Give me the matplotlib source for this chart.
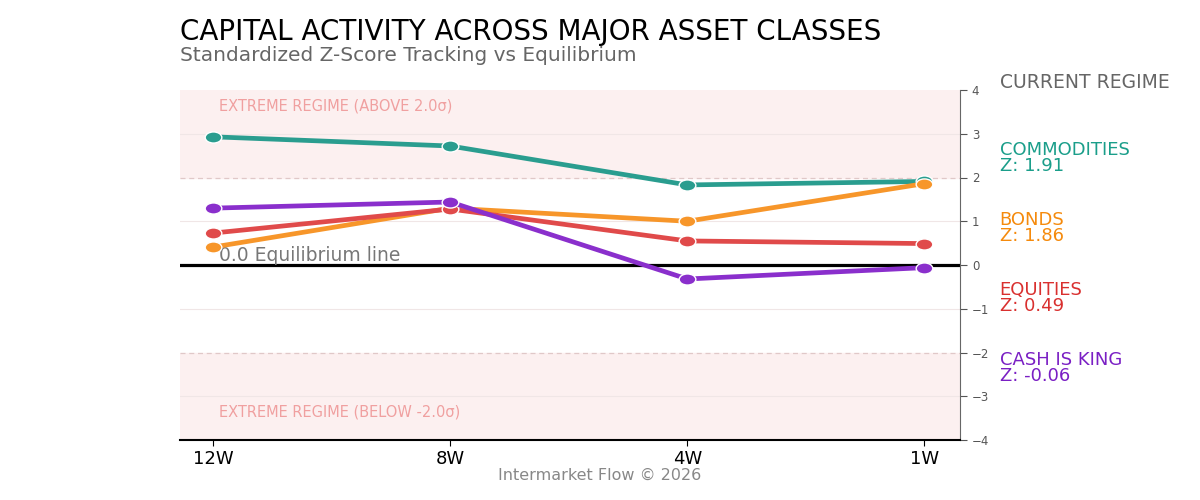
import matplotlib
matplotlib.use("Agg")
import matplotlib.pyplot as plt
from matplotlib.path import Path
from matplotlib.transforms import Affine2D

plt.rcParams['font.family'] = ['DejaVu Sans']

# data
periods = ["12W", "8W", "4W", "1W"]
commodities = [2.93, 2.72, 1.83, 1.91]
bonds = [0.41, 1.30, 1.00, 1.86]
equities = [0.73, 1.28, 0.55, 0.49]
cash = [1.30, 1.44, -0.32, -0.06]
names = ["COMMODITIES", "BONDS", "EQUITIES", "CASH IS KING"]
latest_z = [1.91, 1.86, 0.49, -0.06]

line_colors = ["#2a9d8f", "#f7962a", "#e04a4a", "#8a2fcc"]
text_colors = ["#1a9e8a", "#f58a0c", "#d9302f", "#7a1fc4"]

# the reference is a bit stretched sideways, so markers are wide ovals
oval = Path.unit_circle().transformed(Affine2D().scale(1.5, 1.0))

fig = plt.figure(figsize=(12, 5), dpi=100)
ax = fig.add_axes([0.15, 0.12, 0.65, 0.70])

x = list(range(len(periods)))

# extreme zones
ax.axhspan(2, 4, color="#fcf0f0", zorder=0)
ax.axhspan(-4, -2, color="#fcf0f0", zorder=0)
ax.axhline(2, color="#e0c8c8", lw=0.9, ls=(0, (4, 3)), zorder=1)
ax.axhline(-2, color="#e0c8c8", lw=0.9, ls=(0, (4, 3)), zorder=1)
for g in [1, 3, -1, -3]:
    ax.axhline(g, color="#f0e6e6", lw=0.8, zorder=1)
ax.axhline(0, color="black", lw=2.3, zorder=2)

series = [commodities, bonds, equities, cash]
# purple on top like the reference
for i in [2, 1, 0, 3]:
    ax.plot(x, series[i], color=line_colors[i], lw=3.4, marker=oval, ms=12,
            mec="white", mew=1.0, zorder=3 + i, solid_capstyle="round")

ax.set_xlim(-0.14, 3.15)
ax.set_ylim(-4, 4)
ax.set_xticks(x)
ax.set_xticklabels(periods, fontsize=13, color="black")
ax.yaxis.tick_right()
ax.set_yticks(range(-4, 5))
ax.set_yticklabels([str(v).replace("-", "\u2212") for v in range(-4, 5)])
ax.tick_params(axis="y", labelsize=8.5, labelcolor="#555555", color="#555555", length=5)
ax.tick_params(axis="x", length=4, color="black", pad=3)

for s in ["top", "left"]:
    ax.spines[s].set_visible(False)
ax.spines["right"].set_color("#666666")
ax.spines["bottom"].set_color("black")
ax.spines["bottom"].set_linewidth(1.5)

ax.text(0.025, 3.63, "EXTREME REGIME (ABOVE 2.0\u03c3)", color="#f0a0a0",
        fontsize=10.5, va="center", ha="left")
ax.text(0.025, -3.37, "EXTREME REGIME (BELOW -2.0\u03c3)", color="#f0a0a0",
        fontsize=10.5, va="center", ha="left")
ax.text(0.025, 0.22, "0.0 Equilibrium line", color="#777777", fontsize=13.5,
        va="center", ha="left")

# titles
fig.text(0.15, 0.921, "CAPITAL ACTIVITY ACROSS MAJOR ASSET CLASSES", fontsize=20,
         color="black", va="baseline", ha="left")
fig.text(0.15, 0.878, "Standardized Z-Score Tracking vs Equilibrium", fontsize=14.5,
         color="#666666", va="baseline", ha="left")

# side panel
fig.text(0.833, 0.836, "CURRENT REGIME", fontsize=13.5, color="#666666", va="center")
for k, (nm, z) in enumerate(zip(names, latest_z)):
    ytop = 0.70 - k * 0.14
    fig.text(0.833, ytop, nm, fontsize=13, color=text_colors[k], va="center")
    fig.text(0.833, ytop - 0.032, f"Z: {z:.2f}", fontsize=13, color=text_colors[k], va="center")

fig.text(0.5, 0.05, "Intermarket Flow \u00a9 2026", fontsize=11.5, color="#888888",
         ha="center", va="center")

fig.savefig("out.png", dpi=100)
